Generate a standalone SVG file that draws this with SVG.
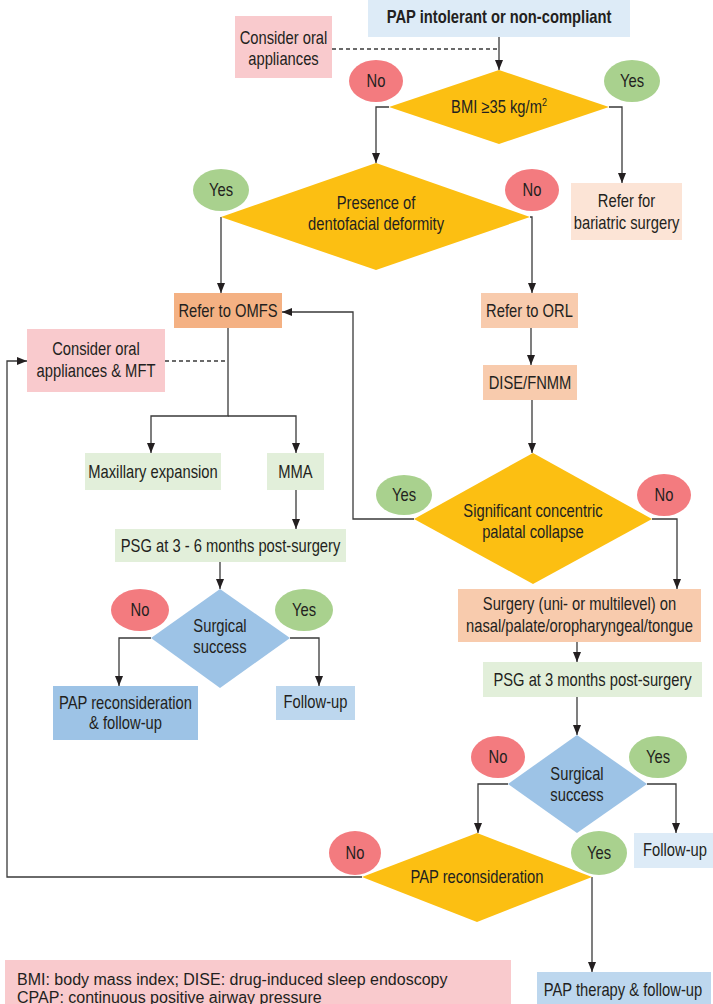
<svg xmlns="http://www.w3.org/2000/svg" width="713" height="1004" viewBox="0 0 713 1004">
<defs>
<marker id="ah" markerUnits="userSpaceOnUse" markerWidth="10" markerHeight="10" viewBox="0 0 10 10" refX="10" refY="5" orient="auto">
<path d="M0,1 L10,5 L0,9 Z" fill="#231f20"/>
</marker>
<style>
.t{font-family:"Liberation Sans",Arial,sans-serif;font-size:18px;fill:#231f20;text-anchor:middle;transform-box:fill-box;transform-origin:center;transform:scaleX(0.82)}
.b{font-weight:bold}
.lg{font-family:"Liberation Sans",Arial,sans-serif;font-size:16px;fill:#231f20}
.c{fill:none;stroke:#3a3a3a;stroke-width:1.3}
.a{marker-end:url(#ah)}
.d{stroke-dasharray:4 3}
.no{fill:#f37b7f}
.yes{fill:#a9d18e}
.dia{fill:#fcbf12}
.bd{fill:#9dc3e6}
.pink{fill:#f9cacd}
.lb{fill:#ddebf7}
.mb{fill:#bdd7ee}
.gr{fill:#e2efda}
.or1{fill:#f4b183}
.or2{fill:#f8cbad}
.or3{fill:#fce4d6}
</style>
</defs>

<g id="connectors">
<path class="c a" d="M499,37 V70"/>
<path class="c d" d="M332,49 H499"/>
<path class="c a" d="M389,107 H376 V163"/>
<path class="c a" d="M609,107 H622 V183"/>
<path class="c a" d="M221,217 V293"/>
<path class="c a" d="M530,217 H532 V293"/>
<path class="c a" d="M531,328 V365"/>
<path class="c a" d="M532,400 V453"/>
<path class="c a" d="M414,519 H353 V312 H282"/>
<path class="c a" d="M652,519 H677 V589"/>
<path class="c a" d="M228,328 V416 H151 V453"/>
<path class="c a" d="M228,416 H296 V453"/>
<path class="c d" d="M165,361 H228"/>
<path class="c a" d="M296,490 V529"/>
<path class="c a" d="M220,562 V589"/>
<path class="c a" d="M151,638 H119 V686"/>
<path class="c a" d="M290,638 H319 V686"/>
<path class="c a" d="M577,642 V662"/>
<path class="c a" d="M577,697 V735"/>
<path class="c a" d="M508,784 H478 V833"/>
<path class="c a" d="M647,784 H676 V833"/>
<path class="c a" d="M362,877 H7 V361 H27"/>
<path class="c a" d="M592,877 V972"/>
</g>

<g id="pap-intolerant"><rect class="lb" x="368" y="0" width="262" height="37"/><text class="t b" x="499" y="23">PAP intolerant or non-compliant</text></g>
<g id="consider-oral"><rect class="pink" x="235" y="16" width="97" height="62"/><text class="t" x="283.5" y="44">Consider oral</text><text class="t" x="283.5" y="65">appliances</text></g>
<g id="bmi"><polygon class="dia" points="499,70 609,107 499,144 389,107"/><text class="t" x="499" y="113">BMI ≥35 kg/m<tspan font-size="11" dy="-7">2</tspan></text></g>
<g id="bmi-no"><ellipse class="no" cx="376" cy="81" rx="27" ry="21"/><text class="t" x="376" y="87">No</text></g>
<g id="bmi-yes"><ellipse class="yes" cx="632" cy="81" rx="28" ry="21"/><text class="t" x="632" y="87">Yes</text></g>
<g id="bariatric"><rect class="or3" x="571" y="183" width="111" height="57"/><text class="t" x="626.5" y="207">Refer for</text><text class="t" x="626.5" y="229">bariatric surgery</text></g>
<g id="dentofacial"><polygon class="dia" points="376,163 530,217 376,270 221,217"/><text class="t" x="376" y="209">Presence of</text><text class="t" x="376" y="230">dentofacial deformity</text></g>
<g id="df-yes"><ellipse class="yes" cx="221" cy="190" rx="28" ry="21"/><text class="t" x="221" y="196">Yes</text></g>
<g id="df-no"><ellipse class="no" cx="532" cy="190" rx="27" ry="21"/><text class="t" x="532" y="196">No</text></g>
<g id="omfs"><rect class="or1" x="174" y="293" width="108" height="35"/><text class="t" x="228" y="317">Refer to OMFS</text></g>
<g id="orl"><rect class="or2" x="481" y="293" width="97" height="35"/><text class="t" x="529.5" y="317">Refer to ORL</text></g>
<g id="oral-mft"><rect class="pink" x="27" y="329" width="138" height="63"/><text class="t" x="96" y="355">Consider oral</text><text class="t" x="96" y="377">appliances &amp; MFT</text></g>
<g id="maxillary"><rect class="gr" x="85" y="453" width="136" height="37"/><text class="t" x="153" y="478">Maxillary expansion</text></g>
<g id="mma"><rect class="gr" x="267" y="453" width="57" height="37"/><text class="t" x="295.5" y="478">MMA</text></g>
<g id="dise"><rect class="or2" x="483" y="365" width="94" height="35"/><text class="t" x="530" y="389">DISE/FNMM</text></g>
<g id="palatal"><polygon class="dia" points="533,453 652,519 533,584 414,519"/><text class="t" x="533" y="517">Significant concentric</text><text class="t" x="533" y="538">palatal collapse</text></g>
<g id="pal-yes"><ellipse class="yes" cx="404" cy="495" rx="28" ry="20"/><text class="t" x="404" y="501">Yes</text></g>
<g id="pal-no"><ellipse class="no" cx="664" cy="495" rx="27" ry="21"/><text class="t" x="664" y="501">No</text></g>
<g id="psg36"><rect class="gr" x="115" y="529" width="231" height="33"/><text class="t" x="230.5" y="552">PSG at 3 - 6 months post-surgery</text></g>
<g id="success1"><polygon class="bd" points="220,589 290,638 220,688 151,638"/><text class="t" x="220" y="632">Surgical</text><text class="t" x="220" y="653">success</text></g>
<g id="s1-no"><ellipse class="no" cx="140" cy="610" rx="29" ry="21"/><text class="t" x="140" y="616">No</text></g>
<g id="s1-yes"><ellipse class="yes" cx="304" cy="610" rx="29" ry="21"/><text class="t" x="304" y="616">Yes</text></g>
<g id="pap-recon-fu"><rect class="bd" x="53" y="686" width="145" height="54"/><text class="t" x="125.5" y="709">PAP reconsideration</text><text class="t" x="125.5" y="729">&amp; follow-up</text></g>
<g id="follow-up1"><rect class="mb" x="276" y="686" width="79" height="34"/><text class="t" x="315.5" y="708">Follow-up</text></g>
<g id="surgery"><rect class="or2" x="458" y="589" width="243" height="53"/><text class="t" x="579.5" y="610">Surgery (uni- or multilevel) on</text><text class="t" x="579.5" y="632">nasal/palate/oropharyngeal/tongue</text></g>
<g id="psg3"><rect class="gr" x="483" y="662" width="219" height="35"/><text class="t" x="592.5" y="686">PSG at 3 months post-surgery</text></g>
<g id="success2"><polygon class="bd" points="577,735 647,784 577,833 508,784"/><text class="t" x="577" y="780">Surgical</text><text class="t" x="577" y="801">success</text></g>
<g id="s2-no"><ellipse class="no" cx="498" cy="757" rx="27" ry="21"/><text class="t" x="498" y="763">No</text></g>
<g id="s2-yes"><ellipse class="yes" cx="658" cy="757" rx="29" ry="21"/><text class="t" x="658" y="763">Yes</text></g>
<g id="follow-up2"><rect class="lb" x="634" y="833" width="79" height="35"/><text class="t" x="675" y="856">Follow-up</text></g>
<g id="pap-recon"><polygon class="dia" points="477,833 592,877 477,922 362,877"/><text class="t" x="477" y="883">PAP reconsideration</text></g>
<g id="pr-no"><ellipse class="no" cx="355" cy="853" rx="26" ry="22"/><text class="t" x="355" y="859">No</text></g>
<g id="pr-yes"><ellipse class="yes" cx="599" cy="853" rx="28" ry="22"/><text class="t" x="599" y="859">Yes</text></g>
<g id="pap-therapy"><rect class="mb" x="537" y="972" width="174" height="40"/><text class="t" x="623" y="996">PAP therapy &amp; follow-up</text></g>
<g id="legend"><rect class="pink" x="5" y="960" width="506" height="50"/><text class="lg" x="17" y="985">BMI: body mass index; DISE: drug-induced sleep endoscopy</text><text class="lg" x="17" y="1003">CPAP: continuous positive airway pressure</text></g>
</svg>
